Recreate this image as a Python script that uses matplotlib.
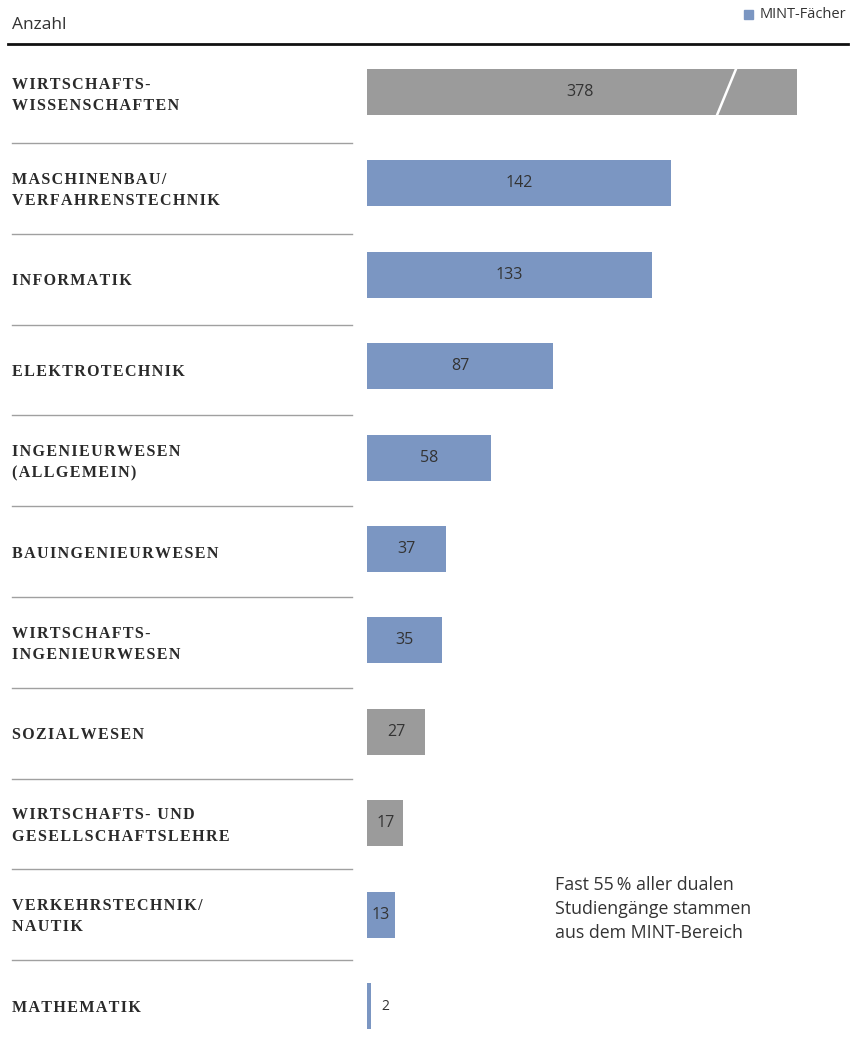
import matplotlib
matplotlib.use("Agg")
import matplotlib.pyplot as plt
from matplotlib.transforms import blended_transform_factory
from matplotlib.patches import Rectangle

categories = ["WIRTSCHAFTS-\nWISSENSCHAFTEN", "MASCHINENBAU/\nVERFAHRENSTECHNIK", "INFORMATIK",
              "ELEKTROTECHNIK", "INGENIEURWESEN\n(ALLGEMEIN)", "BAUINGENIEURWESEN",
              "WIRTSCHAFTS-\nINGENIEURWESEN", "SOZIALWESEN", "WIRTSCHAFTS- UND\nGESELLSCHAFTSLEHRE",
              "VERKEHRSTECHNIK/\nNAUTIK", "MATHEMATIK"]
values = [378, 142, 133, 87, 58, 37, 35, 27, 17, 13, 2]
is_mint = [False, True, True, True, True, True, True, False, False, True, True]
legend_label = "MINT-Fächer"
axis_label = "Anzahl"
note = "Fast 55\u2009% aller dualen\nStudiengänge stammen\naus dem MINT-Bereich"

BLUE = "#7b96c2"
GREY = "#9b9b9b"
TXT = "#333333"
CAP = 201      # displayed length of broken bar
BREAK_AT = 168


def spaced(s):
    return "\n".join("\u200a".join(line) for line in s.split("\n"))


W, H = 864, 1053
fig = plt.figure(figsize=(W / 100, H / 100), dpi=100)
ax = fig.add_axes([367 / W, 0, (848 - 367) / W, (H - 44) / H])
row = 91.4
top_off = 48 / row
ax.set_ylim(-top_off + (H - 44) / row, -top_off)
ax.set_xlim(0, (848 - 367) / 2.14)
ax.axis("off")

for i, (v, m) in enumerate(zip(values, is_mint)):
    shown = min(v, CAP)
    ax.barh(i, shown, height=0.503, left=0, color=BLUE if m else GREY, edgecolor="none")
    if v < 5:
        ax.text(shown + 4.5, i, str(v), ha="left", va="center", fontsize=10,
                family="Open Sans", color=TXT)
    else:
        ax.text(shown / 2 - (1 if v > CAP else 0), i, str(v), ha="center", va="center",
                fontsize=11.5, family="Open Sans", color=TXT)
    if v > CAP:
        ax.plot([BREAK_AT + 4.4, BREAK_AT - 4.4], [i - 0.25, i + 0.25], color="white", lw=1.8)

# separators and labels (layout in pixels)
n = len(categories)
seps = [143 + 90.8 * k for k in range(n - 1)]
bounds = [44] + seps + [1051]
for k, s in enumerate(seps):
    fig.add_artist(plt.Line2D([12 / W, 352 / W], [1 - s / H, 1 - s / H], color="#a0a0a0", lw=1))
for k, c in enumerate(categories):
    yc = (bounds[k] + bounds[k + 1]) / 2 + 2
    fig.text(12 / W, 1 - yc / H, spaced(c), ha="left", va="center", fontsize=11.5,
             family=["Liberation Serif", "DejaVu Sans"], weight="bold", color="#2a2a2a",
             linespacing=1.45)

# header
fig.add_artist(plt.Line2D([8 / W, 848 / W], [1 - 44 / H, 1 - 44 / H], color="#111111", lw=2))
fig.text(12 / W, 1 - 25 / H, axis_label, ha="left", va="center", fontsize=12.5, family="Open Sans",
         color=TXT)
fig.add_artist(Rectangle((744 / W, 1 - 19 / H), 9 / W, 9 / H, color=BLUE, transform=fig.transFigure))
fig.text(760 / W, 1 - 14 / H, legend_label, ha="left", va="center", fontsize=10.5,
         family="Open Sans", color=TXT)

fig.text(555 / W, 1 - 909 / H, note, ha="left", va="center", fontsize=12.8, family="Open Sans",
         color=TXT, linespacing=1.4)

fig.savefig("out.png", dpi=100)
